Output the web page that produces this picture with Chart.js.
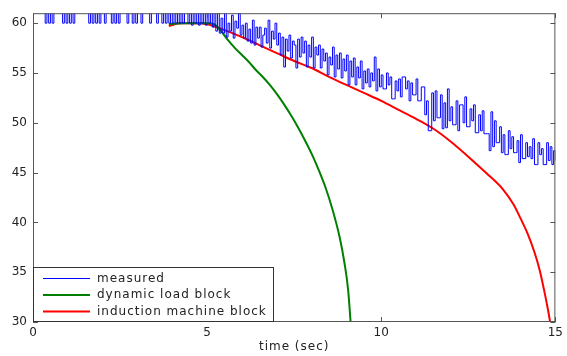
<!DOCTYPE html>
<html>
<head>
<meta charset="utf-8">
<script src="https://cdn.jsdelivr.net/npm/chart.js@4.4.0/dist/chart.umd.min.js"></script>
<style>
  html, body { margin: 0; padding: 0; background: #fff; }
  #wrap { width: 567px; height: 356px; }
</style>
</head>
<body>
<div id="wrap"><canvas id="speedChart" width="567" height="356"></canvas></div>
<script>
// Axis ticks
const xTicks = [0, 5, 10, 15];
const yTicks = [30, 35, 40, 45, 50, 55, 60];
const xTitle = 'time (sec)';

// Measured signal, one sample every 0.05 sec from t = 0 (one row per second)
const measuredStep = 0.05;
const measured = [
  62, 62, 62, 62, 62, 62, 62, 60, 62, 60, 62, 60, 62, 62, 62, 62, 62, 60, 62, 60,
  62, 60, 62, 60, 62, 62, 62, 62, 62, 62, 62, 62, 60, 62, 60, 62, 60, 62, 60, 62,
  62, 60, 62, 62, 62, 60, 62, 60, 62, 60, 62, 62, 62, 62, 60, 62, 62, 60, 62, 60,
  62, 62, 60, 62, 62, 62, 62, 60, 62, 62, 62, 60, 62, 62, 60, 62, 60, 62, 60, 62,
  60, 62, 60, 62, 60, 62, 60, 62, 61.5, 60, 61.5, 59.8, 61.5, 60, 61.2, 59.8, 61.5, 60, 61.5, 59.8,
  61.5, 60, 61.5, 59.6, 61.2, 59.2, 61.5, 59, 60.5, 59, 61.2, 58.6, 60, 59.2, 60.8, 58.5, 60.2, 59.5, 61, 58.8,
  59.8, 58.5, 60, 58.2, 59.4, 58, 60.3, 57.8, 59.6, 58.5, 59.6, 57.6, 58.8, 59.5, 58, 60.3, 57.5, 59.2, 58.4, 60,
  57.8, 59, 56.8, 58.6, 55.6, 58.4, 57.2, 58.8, 56.5, 58.2, 57.8, 55.5, 58.4, 56.6, 58.6, 57, 58.2, 55.6, 57.8, 56.6,
  58.6, 55.5, 57.6, 56.8, 57.8, 55.5, 57.4, 56.2, 57, 54.8, 56.6, 55.8, 57.6, 54.6, 56.8, 55.4, 57, 54.5, 56.4, 55.2,
  56.8, 53.8, 56.2, 54.6, 56.5, 53.8, 55.6, 54.5, 56.2, 53.4, 55.2, 54, 55.4, 53.6, 55, 54.2, 56.6, 53.2, 55.4, 53.6,
  54.8, 53.4, 53.4, 55, 53.8, 54.6, 52.4, 52.4, 54.2, 53.2, 54.4, 52.6, 54.6, 54.6, 53.4, 54.2, 52.2, 54, 52.8, 52.8,
  54.4, 52.2, 52.2, 53.6, 53.6, 50.8, 52.2, 49.2, 49.2, 53, 50.2, 53.2, 50.5, 50.5, 52.8, 49.4, 52, 49.5, 53.4, 50.2,
  51.6, 49.8, 49.8, 52.2, 49.2, 51.8, 51.8, 50, 52.6, 49.6, 49.6, 51.4, 50.2, 51.8, 49, 49, 50.8, 49.2, 51.2, 48.9,
  48.9, 48.9, 47.2, 51.1, 47.6, 50.2, 48, 48, 49.6, 47, 48.8, 46.8, 46.8, 49.2, 47.4, 48.6, 47, 47, 48.2, 46,
  48.8, 46.4, 46.4, 48, 46.6, 47.6, 46.4, 48.4, 45.8, 45.8, 48, 46.8, 47.4, 45.8, 45.8, 48, 46.2, 47.6, 45.8, 47.2,
  46.2
];

// Dynamic load block simulation
const dynamicTime = [3.9, 4.3, 4.7, 5.0, 5.2, 5.4, 5.6, 5.8, 6.0, 6.2, 6.4, 6.6, 6.8, 7.0, 7.2, 7.4, 7.6, 7.8, 8.0, 8.2, 8.4, 8.6, 8.8, 8.95, 9.05, 9.12];
const dynamicLoad = [59.9, 60.0, 60.0, 60.0, 59.9, 59.2, 58.3, 57.5, 56.8, 56.1, 55.3, 54.6, 53.8, 52.9, 51.9, 50.8, 49.6, 48.3, 46.9, 45.3, 43.5, 41.3, 38.6, 35.8, 33.2, 30.0];

// Induction machine block simulation
const inductionTime = [3.9, 4.0, 4.2, 4.6, 5.0, 5.5, 6.0, 6.5, 7.0, 7.5, 8.0, 8.5, 9.0, 9.5, 10.0, 10.5, 11.0, 11.5, 12.0, 12.5, 13.0, 13.5, 13.8, 14.0, 14.2, 14.4, 14.55, 14.7, 14.8, 14.86];
const inductionMachine = [59.7, 59.8, 60.0, 60.0, 59.9, 59.3, 58.6, 57.8, 57.0, 56.2, 55.5, 54.6, 53.8, 53.0, 52.2, 51.3, 50.4, 49.4, 48.1, 46.6, 45.0, 43.3, 41.8, 40.4, 38.9, 37.0, 35.2, 32.8, 31.0, 29.8];

const labelFont = { family: 'DejaVu Sans', size: 12 };
const textColor = '#222';

// Box round the plot, MATLAB style inward ticks, x title and the legend in the lower left corner
const matlabFrame = {
  id: 'matlabFrame',
  afterDraw(chart) {
    const { ctx, chartArea: a, scales: { x, y } } = chart;
    const len = 5;
    ctx.save();
    ctx.strokeStyle = '#555';
    ctx.lineWidth = 1;
    ctx.beginPath();
    x.ticks.forEach(t => {
      const px = Math.round(x.getPixelForValue(t.value)) + 0.5;
      ctx.moveTo(px, a.bottom); ctx.lineTo(px, a.bottom - len);
      ctx.moveTo(px, a.top); ctx.lineTo(px, a.top + len);
    });
    y.ticks.forEach(t => {
      const py = Math.round(y.getPixelForValue(t.value)) + 0.5;
      ctx.moveTo(a.left, py); ctx.lineTo(a.left + len, py);
      ctx.moveTo(a.right, py); ctx.lineTo(a.right - len, py);
    });
    ctx.stroke();
    ctx.strokeRect(a.left + 0.5, a.top + 0.5, a.right - a.left - 1, a.bottom - a.top - 1);

    ctx.font = '12px "DejaVu Sans"';
    ctx.letterSpacing = '1px';
    ctx.fillStyle = textColor;
    ctx.textBaseline = 'middle';
    ctx.textAlign = 'center';
    ctx.fillText(xTitle, (a.left + a.right) / 2, 347);

    // legend
    const box = { left: a.left, top: 267, right: 274, bottom: a.bottom };
    ctx.fillStyle = '#fff';
    ctx.fillRect(box.left, box.top, box.right - box.left, box.bottom - box.top);
    ctx.strokeStyle = '#333';
    ctx.strokeRect(box.left + 0.5, box.top + 0.5, box.right - box.left - 1, box.bottom - box.top - 1);
    ctx.textAlign = 'left';
    chart.data.datasets.forEach((ds, i) => {
      const ly = box.top + 11.5 + i * 16.5;
      ctx.strokeStyle = ds.borderColor;
      ctx.lineWidth = ds.borderWidth;
      ctx.beginPath();
      ctx.moveTo(box.left + 10, ly);
      ctx.lineTo(box.left + 57, ly);
      ctx.stroke();
      ctx.fillStyle = textColor;
      ctx.fillText(ds.label, box.left + 64, ly);
    });
    ctx.restore();
  }
};

new Chart(document.getElementById('speedChart').getContext('2d'), {
  type: 'line',
  data: {
    datasets: [
      {
        label: 'measured',
        data: measured.map((v, i) => ({ x: i * measuredStep, y: v })),
        borderColor: '#0000ff',
        borderWidth: 1,
        stepped: true,
        pointRadius: 0
      },
      {
        label: 'dynamic load block',
        data: dynamicTime.map((t, i) => ({ x: t, y: dynamicLoad[i] })),
        borderColor: '#008000',
        borderWidth: 2,
        cubicInterpolationMode: 'monotone',
        pointRadius: 0
      },
      {
        label: 'induction machine block',
        data: inductionTime.map((t, i) => ({ x: t, y: inductionMachine[i] })),
        borderColor: '#ff0000',
        borderWidth: 2,
        cubicInterpolationMode: 'monotone',
        pointRadius: 0
      }
    ]
  },
  options: {
    responsive: false,
    animation: false,
    devicePixelRatio: 1,
    layout: { padding: { top: 8, right: 6, left: 0, bottom: 0 } },
    plugins: { legend: { display: false }, tooltip: { enabled: false } },
    scales: {
      x: {
        type: 'linear',
        min: 0,
        max: 15,
        afterBuildTicks: s => { s.ticks = xTicks.map(v => ({ value: v })); },
        afterFit: s => { s.height = 34; },
        grid: { display: false, drawTicks: false },
        border: { display: false },
        ticks: { font: labelFont, color: textColor, padding: 4, maxRotation: 0 }
      },
      y: {
        min: 30,
        max: 61,
        afterBuildTicks: s => { s.ticks = yTicks.map(v => ({ value: v })); },
        afterFit: s => { s.width = 33; },
        grid: { display: false, drawTicks: false },
        border: { display: false },
        ticks: { font: labelFont, color: textColor, padding: 6 }
      }
    }
  },
  plugins: [matlabFrame]
});
</script>
</body>
</html>
